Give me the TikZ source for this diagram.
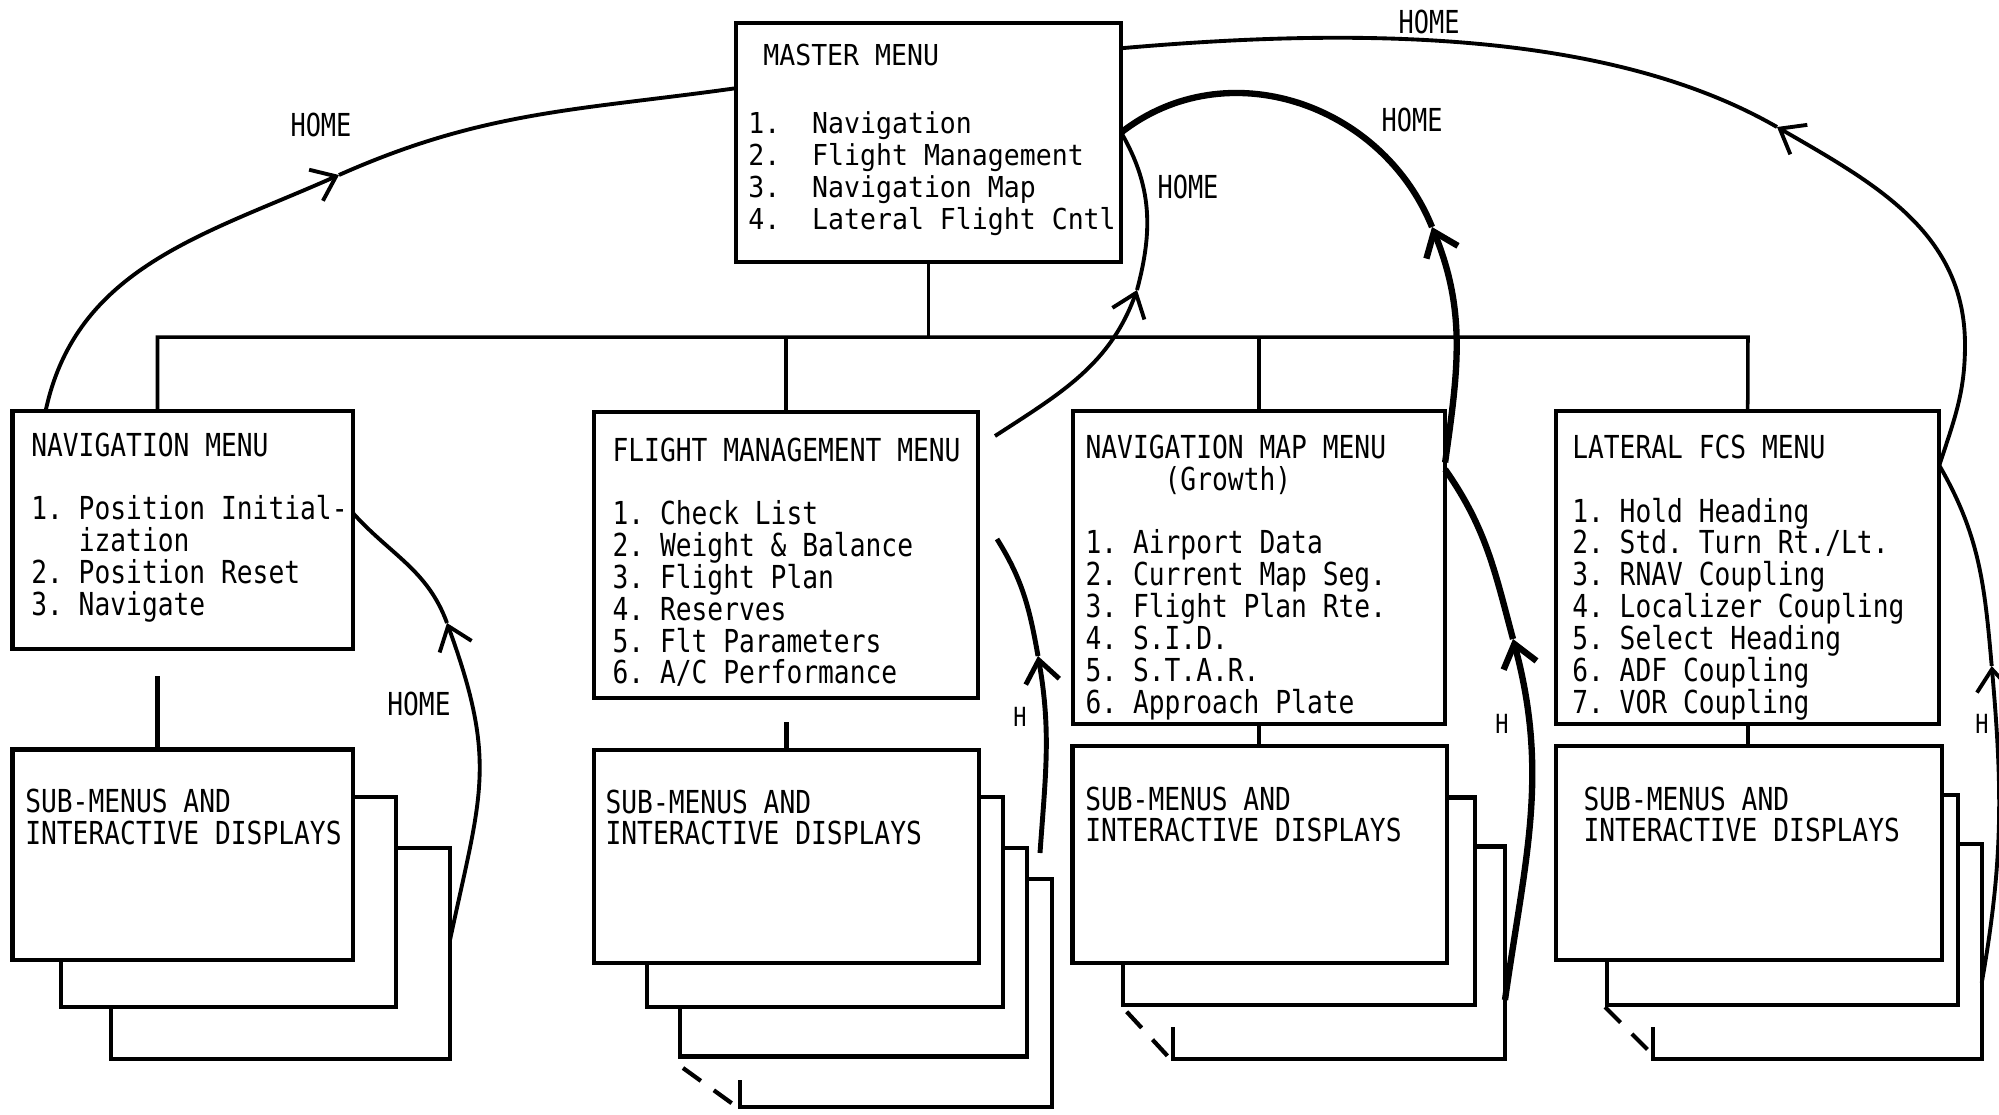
\documentclass[tikz,border=0pt]{standalone}
\usepackage{fontspec}
\usepackage{tikz}
\usetikzlibrary{arrows.meta}
\newfontfamily\menufont[FakeStretch=0.83]{DejaVu Sans Mono}
\newfontfamily\masterfont[FakeStretch=0.92]{DejaVu Sans Mono}
\newfontfamily\homefont[FakeStretch=0.80]{DejaVu Sans Mono}

\tikzset{
  menubox/.style={draw, line width=1.2pt, inner sep=0pt, outer sep=0pt},
  pageline/.style={line width=1.2pt},
  busline/.style={line width=1pt},
  homearc/.style={line width=1.1pt},
  midarc/.style={line width=1.4pt},
  heavyarc/.style={line width=1.8pt},
  itemtext/.style={anchor=north west, inner sep=0pt, align=left,
    font=\menufont\fontsize{9pt}{9.05pt}\selectfont\frenchspacing},
  mastertext/.style={anchor=north west, inner sep=0pt, align=left,
    font=\masterfont\fontsize{8.2pt}{9.1pt}\selectfont\frenchspacing},
  homelabel/.style={inner sep=0pt, font=\homefont\fontsize{9pt}{9pt}\selectfont},
  sublabel/.style={inner sep=0pt, font=\menufont\fontsize{9pt}{9pt}\selectfont},
  hlabel/.style={inner sep=0pt, font=\menufont\fontsize{7.5pt}{7.5pt}\selectfont}
}

\begin{document}
\begin{tikzpicture}[x=0.01cm, y=0.01cm, >={Straight Barb[length=2.2mm,width=3.4mm]}]
  \useasboundingbox (0,0) rectangle (1999,-1114);

  % Menu boxes
  \node[menubox, minimum width=3.853cm, minimum height=2.384cm] (master) at (928.4,-142.5) {};
  \node[mastertext] (mastertitle) at ([shift={(27,-20)}]master.north west) {MASTER MENU};
  \node[mastertext] (masterlist) at ([shift={(12,-88)}]master.north west)
    {1.~~Navigation\\2.~~Flight Management\\3.~~Navigation Map\\4.~~Lateral Flight Cntl};

  \node[menubox, minimum width=3.40cm, minimum height=2.376cm] (nav) at (182.7,-529.9) {};
  \node[itemtext] (navtext) at ([shift={(18,-21)}]nav.north west)
    {NAVIGATION MENU\\[9.05pt]1. Position Initial-\\\phantom{1.~}ization\\2. Position Reset\\3. Navigate};

  \node[menubox, minimum width=3.84cm, minimum height=2.86cm] (fm) at (786,-555) {};
  \node[itemtext] (fmtext) at ([shift={(18,-25)}]fm.north west)
    {FLIGHT MANAGEMENT MENU\\[9.05pt]1. Check List\\2. Weight \& Balance\\3. Flight Plan\\4. Reserves\\5. Flt Parameters\\6. A/C Performance};

  \node[menubox, minimum width=3.72cm, minimum height=3.13cm] (navmap) at (1259,-567.4) {};
  \node[itemtext] (navmaptext) at ([shift={(12,-23.5)}]navmap.north west)
    {NAVIGATION MAP MENU\\\phantom{NAVIG}(Growth)\\[9.05pt]1. Airport Data\\2. Current Map Seg.\\3. Flight Plan Rte.\\4. S.I.D.\\5. S.T.A.R.\\6. Approach Plate};

  \node[menubox, minimum width=3.83cm, minimum height=3.13cm] (lfcs) at (1747.7,-567.4) {};
  \node[itemtext] (lfcstext) at ([shift={(15.5,-23.5)}]lfcs.north west)
    {LATERAL FCS MENU\\[9.05pt]1. Hold Heading\\2. Std. Turn Rt./Lt.\\3. RNAV Coupling\\4. Localizer Coupling\\5. Select Heading\\6. ADF Coupling\\7. VOR Coupling};

  % Sub-menu boxes
  \node[menubox, minimum width=3.40cm, minimum height=2.10cm] (navsub) at (182.7,-854.6) {};
  \node[itemtext] at ([shift={(12,-39)}]navsub.north west) {SUB-MENUS AND\\INTERACTIVE DISPLAYS};
  \node[menubox, minimum width=3.85cm, minimum height=2.13cm] (fmsub) at (786.5,-856.5) {};
  \node[itemtext] at ([shift={(11,-39)}]fmsub.north west) {SUB-MENUS AND\\INTERACTIVE DISPLAYS};
  \node[menubox, minimum width=3.74cm, minimum height=2.166cm] (mapsub) at (1259.7,-854.3) {};
  \node[itemtext] at ([shift={(12,-40)}]mapsub.north west) {SUB-MENUS AND\\INTERACTIVE DISPLAYS};
  \node[menubox, minimum width=3.857cm, minimum height=2.14cm] (lfcssub) at (1748.85,-853) {};
  \node[itemtext] at ([shift={(27,-40)}]lfcssub.north west) {SUB-MENUS AND\\INTERACTIVE DISPLAYS};

  % Pages stacked behind
  \draw[pageline] (352.7,-797) -| (396,-1006.7) -| (61,-959.6);
  \draw[pageline] (396,-848) -| (450,-1058.6) -| (111,-1006.7);
  \draw[pageline] (979,-796.7) -| (1003.3,-1007) -| (646.7,-963);
  \draw[pageline] (1003.3,-848) -| (1026.7,-1056.5) -| (680,-1007);
  \draw[pageline] (1026.7,-878.6) -| (1051.7,-1107) -| (740,-1080);
  \draw[pageline, dash pattern=on 2.2mm off 1.6mm] (683,-1068) -- (737,-1107);
  \draw[pageline] (1446.7,-797.4) -| (1475,-1005) -| (1123.3,-962.6);
  \draw[pageline] (1475,-846.5) -| (1505,-1058.6) -| (1173.3,-1027);
  \draw[pageline, dash pattern=on 2.2mm off 1.6mm] (1126.7,-1011.7) -- (1170,-1058.6);
  \draw[pageline] (1941.8,-795) -| (1958.3,-1005) -| (1606.7,-960);
  \draw[pageline] (1958.3,-844.3) -| (1981.7,-1058.6) -| (1653.3,-1027);
  \draw[pageline, dash pattern=on 2.2mm off 1.6mm] (1605,-1007) -- (1650,-1052);

  % Tree lines
  \coordinate (busleft) at (157.5,-337);
  \coordinate (busright) at (1748,-337);
  \draw[busline] (nav.north -| busleft) -- (busleft) -- (busright) -- (lfcs.north);
  \draw[busline] (master.south) -- (master.south |- busleft);
  \draw[busline] (fm.north) -- (fm.north |- busleft);
  \draw[busline] (navmap.north) -- (navmap.north |- busleft);
  \draw[pageline] (navsub.north -| busleft) -- +(0,73.6);
  \draw[pageline] (fmsub.north) -- +(0,28);
  \draw[pageline] (navmap.south) -- (navmap.south |- mapsub.north);
  \draw[pageline] (lfcs.south) -- (lfcs.south |- lfcssub.north);

  % Return arrows
  \coordinate (navback) at (450,-940);
  \coordinate (navtip) at (447,-623);
  \draw[homearc, ->] (navback) to[out=78, in=-70, looseness=1.2] (navtip);
  \draw[homearc] (navtip) to[out=110, in=-48] ([shift={(0,17)}]nav.east);

  \coordinate (lefttip) at (339,-175);
  \draw[homearc, ->] ([shift={(33,0)}]nav.north west) to[out=78, in=204] (lefttip);
  \draw[homearc] (lefttip) to[out=24, in=188] ([shift={(0,-65)}]master.north west);

  \coordinate (fmback) at (1040,-853);
  \coordinate (fmhtip) at (1038,-656);
  \coordinate (fmhend) at (997,-539);
  \draw[midarc, ->] (fmback) to[out=86, in=-80] (fmhtip);
  \draw[midarc] (fmhtip) to[out=100, in=-58] (fmhend);

  \coordinate (fmhome) at (995,-436);
  \coordinate (fmtip) at (1137,-290);
  \draw[homearc, ->] (fmhome) to[out=33, in=250] (fmtip);
  \draw[homearc] (fmtip) to[out=75, in=-60] ([shift={(0,10)}]master.east);

  \coordinate (mapback) at (1505,-1000);
  \coordinate (maphtip) at (1513,-639);
  \draw[heavyarc, ->] (mapback) to[out=82, in=-75] (maphtip);
  \draw[heavyarc] (maphtip) to[out=105, in=-55] ([shift={(0,98)}]navmap.east);

  \coordinate (maptip) at (1432,-227);
  \draw[heavyarc, ->] ([shift={(0,105)}]navmap.east) to[out=82, in=-68] (maptip);
  \draw[heavyarc] (maptip) to[out=112, in=38, looseness=1.05] ([shift={(0,10)}]master.east);

  \coordinate (lfcsback) at (1981.7,-983);
  \coordinate (lfcshtip) at (1991.7,-666);
  \draw[homearc, ->] (lfcsback) to[out=80, in=-85] (lfcshtip);
  \draw[homearc] (lfcshtip) to[out=95, in=-60] ([shift={(0,102)}]lfcs.east);

  \coordinate (lfcstip) at (1777,-127);
  \draw[homearc, ->] ([shift={(0,102)}]lfcs.east) to[out=72, in=-90] (1965,-345)
    to[out=90, in=-30] (lfcstip);
  \draw[homearc] (lfcstip) to[out=150, in=5, looseness=0.8] ([shift={(0,-25)}]master.north east);

  % Labels
  \node[homelabel] (homeleft) at (321,-125) {HOME};
  \node[homelabel] (hometop) at (1429,-22) {HOME};
  \node[homelabel] (homemap) at (1412,-120) {HOME};
  \node[homelabel] (homefm) at (1188,-187) {HOME};
  \node[sublabel] (homenav) at (419,-704) {HOME};
  \node[hlabel] (hfm) at (1020,-717) {H};
  \node[hlabel] (hmap) at (1502,-724) {H};
  \node[hlabel] (hlfcs) at (1982,-724) {H};
\end{tikzpicture}
\end{document}
